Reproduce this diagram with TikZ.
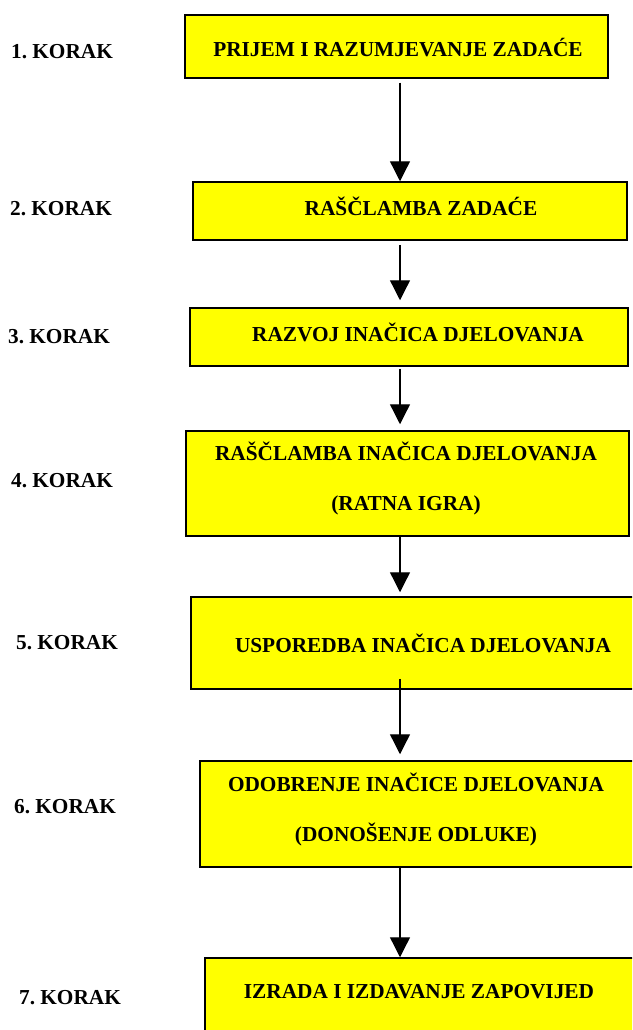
\documentclass[tikz,border=0pt]{standalone}
\usepackage{fontspec}
\setmainfont{Liberation Serif}
\usetikzlibrary{arrows.meta}

\definecolor{boxyellow}{RGB}{255,255,0}

\tikzset{
  stepbox/.style={rectangle, draw=black, line width=1.5pt, fill=boxyellow, inner sep=0pt},
  steptext/.style={font=\fontsize{21.3}{50}\selectfont\bfseries, align=center, inner sep=0pt},
  korak/.style={font=\fontsize{21.3}{25}\selectfont\bfseries, inner sep=0pt},
  flow/.style={-{Triangle[width=20pt,length=20pt]}, line width=1.3pt},
}

\begin{document}
\begin{tikzpicture}[x=1pt, y=-1pt]
\clip (0,0) rectangle (632,1030);

% === Boxes ===
\foreach \i/\x/\y/\w/\h in {1/396.5/46.5/423/63, 2/410/211/434/58,
    3/409/337/438/58, 4/407.5/483.5/443/105, 5/425/643/468/92,
    6/422/814/444/106, 7/425/999/440/82}{
  \node[stepbox, minimum width=\w pt, minimum height=\h pt]
    (Box-\i) at (\x,\y) {};
}

% === Box texts ===
\node[steptext] (Text-1) at (398,48) {PRIJEM I RAZUMJEVANJE ZADAĆE};
\node[steptext] (Text-2) at (421,206) {RAŠČLAMBA ZADAĆE};
\node[steptext] (Text-3) at (418,332) {RAZVOJ INAČICA DJELOVANJA};
\node[steptext] (Text-4) at (406,479) {RAŠČLAMBA INAČICA DJELOVANJA\\(RATNA IGRA)};
\node[steptext] (Text-5) at (423,643) {USPOREDBA INAČICA DJELOVANJA};
\node[steptext] (Text-6) at (416,810) {ODOBRENJE INAČICE DJELOVANJA\\(DONOŠENJE ODLUKE)};
\node[steptext] (Text-7) at (419,992) {IZRADA I IZDAVANJE ZAPOVIJED};

% === Step labels ===
\foreach \i/\x/\y in {1/62/52, 2/61/209, 3/59/337, 4/62/481,
    5/67/643, 6/65/807, 7/70/998}{
  \node[korak] (Korak-\i) at (\x,\y) {\i.\ KORAK};
}

% === Connections ===
\coordinate (Axis) at (400,0);
\foreach \i/\j/\s/\e in {1/2/4/0, 2/3/4/7, 3/4/2/6, 4/5/0/4, 5/6/-11/6, 6/7/-2/0}{
  \draw[flow, shorten <=\s pt, shorten >=\e pt]
    (Box-\i.south -| Axis) -- (Box-\j.north -| Axis);
}
\end{tikzpicture}
\end{document}
